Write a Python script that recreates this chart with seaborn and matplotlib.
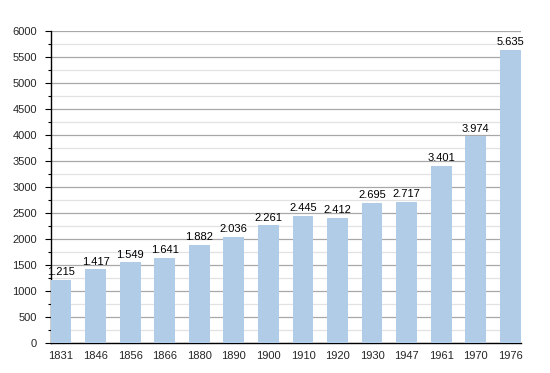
import matplotlib
matplotlib.use("Agg")
import matplotlib.pyplot as plt
import seaborn as sns
import pandas as pd
from matplotlib.ticker import MultipleLocator

years = ["1831", "1846", "1856", "1866", "1880", "1890", "1900", "1910", "1920", "1930", "1947", "1961", "1970", "1976"]
population = [1215, 1417, 1549, 1641, 1882, 2036, 2261, 2445, 2412, 2695, 2717, 3401, 3974, 5635]
labels = ["1.215", "1.417", "1.549", "1.641", "1.882", "2.036", "2.261", "2.445", "2.412", "2.695", "2.717", "3.401", "3.974", "5.635"]

df = pd.DataFrame({"year": years, "pop": population})

sns.set_style("white")
plt.rcParams['font.family'] = ['Liberation Sans', 'DejaVu Sans']

fig = plt.figure(figsize=(5.5, 3.73), dpi=100)
ax = fig.add_axes([0.0922, 0.0804, 0.8545, 0.837])

sns.barplot(data=df, x="year", y="pop", color="#b0cce6", saturation=1, width=0.6,
            linewidth=0, ax=ax, zorder=3)

ax.set_ylim(0, 6000)
ax.set_xlim(-0.3, len(years) - 0.7)
ax.yaxis.set_major_locator(MultipleLocator(500))
ax.yaxis.set_minor_locator(MultipleLocator(250))
ax.grid(axis="y", which="major", color="#a8a8a8", linewidth=0.9, zorder=0)
ax.grid(axis="y", which="minor", color="#e2e2e2", linewidth=0.9, zorder=0)
ax.set_axisbelow(True)

for s in ["top", "right"]:
    ax.spines[s].set_visible(False)
ax.spines["left"].set_color("black")
ax.spines["bottom"].set_color("black")
ax.spines["left"].set_linewidth(1)
ax.spines["bottom"].set_linewidth(1)

ax.tick_params(axis="y", which="major", left=True, length=4, width=0.8, labelsize=8, color="black", pad=6)
ax.tick_params(axis="y", which="minor", left=True, length=2, width=0.8, color="black")
ax.tick_params(axis="x", bottom=False, labelsize=8, pad=2)

ax.set_xlabel("")
ax.set_ylabel("")

for i, (v, lab) in enumerate(zip(population, labels)):
    ax.text(i, v + 50, lab, ha="center", va="bottom", fontsize=8, color="black")

fig.savefig("out.png", dpi=100)
